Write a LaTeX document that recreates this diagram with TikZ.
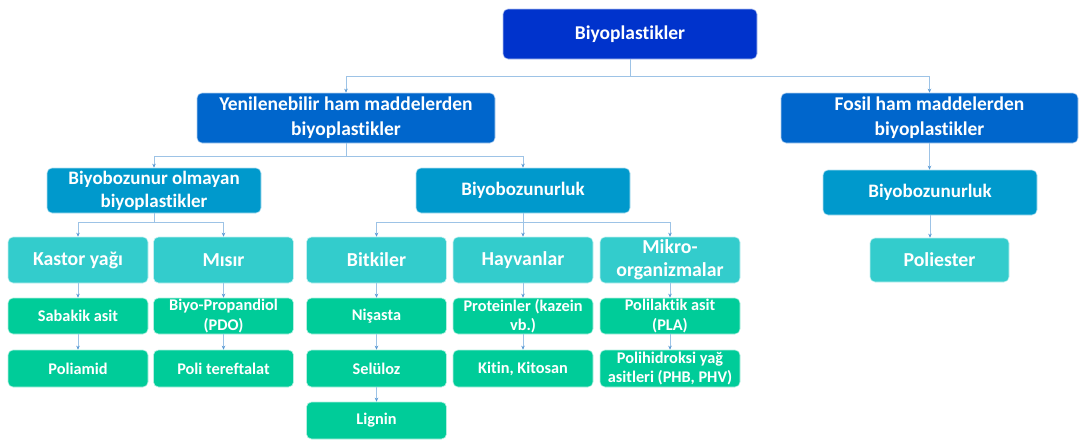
\documentclass[tikz,border=0pt]{standalone}
\usepackage{fontspec}
\setmainfont{Carlito}[Ligatures={NoCommon}]
\usetikzlibrary{arrows.meta}
\definecolor{cA}{RGB}{0,51,204}
\definecolor{cB}{RGB}{0,102,204}
\definecolor{cC}{RGB}{0,153,204}
\definecolor{cD}{RGB}{51,204,204}
\definecolor{cE}{RGB}{0,204,153}
\definecolor{lineC}{RGB}{157,195,230}
\definecolor{tipC}{RGB}{91,155,213}
\tikzset{
  box/.style={rounded corners=5pt, inner sep=0pt, align=center, text=white, draw=white!70!#1, line width=0.6pt, fill=#1},
  lvA/.style={box=cA, minimum width=254pt, minimum height=50pt, font=\fontsize{19.5}{25}\selectfont\bfseries},
  lvB/.style={box=cB, minimum width=298pt, minimum height=50pt, font=\fontsize{19.5}{25}\selectfont\bfseries},
  lvC/.style={box=cC, minimum width=214pt, minimum height=45pt, font=\fontsize{19}{23}\selectfont\bfseries},
  lvD/.style={box=cD, minimum width=140pt, minimum height=46pt, font=\fontsize{19.8}{23}\selectfont\bfseries},
  lvE/.style={box=cE, minimum width=140pt, minimum height=37pt, font=\fontsize{16.3}{19.5}\selectfont\bfseries},
  conn/.style={draw=lineC, line width=0.9pt, -{Stealth[length=4pt,width=3.5pt,color=tipC]}},
}
\begin{document}
\begin{tikzpicture}[x=1pt,y=-1pt]
\useasboundingbox (0,0) rectangle (1081,439);
% level 1
\node[lvA] (top) at (630,34) {Biyoplastikler};
% level 2
\node[lvB] (yen) at (346,118) {Yenilenebilir ham maddelerden\\biyoplastikler};
\node[lvB, minimum width=297pt] (fos) at (929.5,118) {Fosil ham maddelerden\\biyoplastikler};
% level 3
\node[lvC] (bol) at (154,190.5) {Biyobozunur olmayan\\biyoplastikler};
\node[lvC] (bbz) at (523,190.5) {Biyobozunurluk};
\node[lvC] (bbf) at (930,192.5) {Biyobozunurluk};
% level 4
\node[lvD] (kas) at (78,260) {Kastor yağı};
\node[lvD] (mis) at (223.5,260) {Mısır};
\node[lvD] (bit) at (376.5,260) {Bitkiler};
\node[lvD] (hay) at (523,260) {Hayvanlar};
\node[lvD] (mik) at (670,260) {Mikro-\\organizmalar};
\node[lvD, minimum width=139pt, minimum height=44pt] (pes) at (939.5,260) {Poliester};
% level 5
\node[lvE, minimum height=36pt] (sab) at (78,316) {Sabakik asit};
\node[lvE, minimum height=36pt] (pdo) at (223.5,316) {Biyo-Propandiol\\(PDO)};
\node[lvE, minimum height=36pt] (nis) at (376.5,316) {Nişasta};
\node[lvE, minimum height=36pt] (pro) at (523,316) {Proteinler (kazein\\vb.)};
\node[lvE, minimum height=36pt] (pla) at (670,316) {Polilaktik asit\\(PLA)};
% level 6
\node[lvE] (pam) at (78,368.5) {Poliamid};
\node[lvE] (pte) at (223.5,368.5) {Poli tereftalat};
\node[lvE] (sel) at (376.5,368.5) {Selüloz};
\node[lvE] (kit) at (523,368.5) {Kitin, Kitosan};
\node[lvE] (phb) at (670,368.5) {Polihidroksi yağ\\asitleri (PHB, PHV)};
% level 7
\node[lvE] (lig) at (376.5,420.5) {Lignin};
% connectors
\draw[conn] (top.south) -- ++(0,17) -| (yen.north);
\draw[conn] (top.south) -- ++(0,17) -| (fos.north);
\draw[conn] (yen.south) -- ++(0,13) -| (bol.north);
\draw[conn] (yen.south) -- ++(0,13) -| (bbz.north);
\draw[conn] (fos.south) -- (fos.south |- bbf.north);
\draw[conn] (bbf.south) -- (bbf.south |- pes.north);
\draw[conn] (bol.south) -- ++(0,9) -| (kas.north);
\draw[conn] (bol.south) -- ++(0,9) -| (mis.north);
\draw[conn] (bbz.south) -- ++(0,9) -| (bit.north);
\draw[conn] (bbz.south) -- (hay.north);
\draw[conn] (bbz.south) -- ++(0,9) -| (mik.north);
\draw[conn] (kas.south) -- (sab.north);
\draw[conn] (mis.south) -- (pdo.north);
\draw[conn] (bit.south) -- (nis.north);
\draw[conn] (hay.south) -- (pro.north);
\draw[conn] (mik.south) -- (pla.north);
\draw[conn] (sab.south) -- (pam.north);
\draw[conn] (pdo.south) -- (pte.north);
\draw[conn] (nis.south) -- (sel.north);
\draw[conn] (pro.south) -- (kit.north);
\draw[conn] (pla.south) -- (phb.north);
\draw[conn] (sel.south) -- (lig.north);
\end{tikzpicture}
\end{document}
